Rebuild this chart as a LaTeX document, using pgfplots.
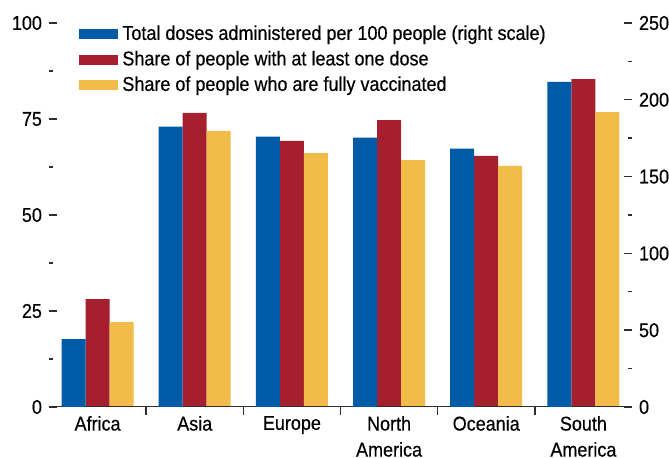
\documentclass[border=0pt]{standalone}
\usepackage{pgfplots}
\usepackage{pgfplotstable}
\pgfplotsset{compat=1.18}
\usepackage{fontspec}
\setmainfont{Liberation Sans}[FakeStretch=0.9, FakeBold=0.4]

\definecolor{imfblue}{HTML}{005BA6}
\definecolor{imfred}{HTML}{A51F2F}
\definecolor{imfyellow}{HTML}{F2BC4A}
\definecolor{axisgray}{HTML}{2E2E2E}

% x: 0 Africa, 1 Asia, 2 Europe, 3 North America, 4 Oceania, 5 South America
\pgfplotstableread{
x doses one full
0 44.2 28.1 22.1
1 182.5 76.6 71.9
2 176.0 69.3 66.1
3 175.3 74.7 64.3
4 168.2 65.4 62.8
5 211.7 85.4 76.8
}\vaccdata

\pgfplotsset{
  common/.style={
    scale only axis, width=291.5pt, height=192pt,
    at={(0,0)}, anchor=south west,
    xmin=-0.5, xmax=5.5, ymin=0,
    axis line style={draw=none},
    tick align=inside,
    tick style={axisgray, line width=0.7pt},
    major tick length=4pt, minor tick length=2pt,
    ybar, bar width=12pt,
    tick label style={font=\fontsize{10}{12}\selectfont},
    /pgf/number format/assume math mode=true,
  },
}

\begin{document}
\begin{tikzpicture}
\useasboundingbox (-24.5pt,-25.5pt) rectangle (310pt,203.5pt);
\begin{axis}[common,
    ymax=100,
    ytick={0,25,50,75,100}, minor ytick={12.5,37.5,62.5,87.5},
    ytick pos=left,
    xtick={0.5,1.5,2.5,3.5,4.5}, xticklabels={}, xtick pos=bottom,
    extra x ticks={0,1,2,3,4,5},
    extra x tick labels={Africa,Asia,Europe,North\\[1pt]America,Oceania,South\\[1pt]America},
    extra x tick style={major tick length=0pt, tick label style={align=center, yshift=-1pt}},
    legend style={draw=none, fill=none, at={(0,1)}, anchor=north west,
      xshift=15pt, yshift=1pt, font=\fontsize{10}{12}\selectfont,
      row sep=0pt, inner sep=0pt},
    legend cell align=left,
    legend image code/.code={\fill[#1] (0pt,-2.5pt) rectangle (19.5pt,2.5pt);},
  ]
  \addlegendimage{fill=imfblue, draw=none}
  \addlegendentry{Total doses administered per 100 people (right scale)}
  \addplot[fill=imfred, draw=none, bar shift=0pt] table[x=x, y=one] {\vaccdata};
  \addlegendentry{Share of people with at least one dose}
  \addplot[fill=imfyellow, draw=none, bar shift=12pt] table[x=x, y=full] {\vaccdata};
  \addlegendentry{Share of people who are fully vaccinated}
  \draw[axisgray, line width=1pt] (rel axis cs:0,0) -- (rel axis cs:1,0);
\end{axis}
\begin{axis}[common,
    ymax=250,
    ytick={0,50,100,150,200,250}, minor ytick={25,75,125,175,225},
    ytick pos=right,
    xtick=\empty,
  ]
  \addplot[fill=imfblue, draw=none, bar shift=-12pt] table[x=x, y=doses] {\vaccdata};
\end{axis}
\end{tikzpicture}
\end{document}
